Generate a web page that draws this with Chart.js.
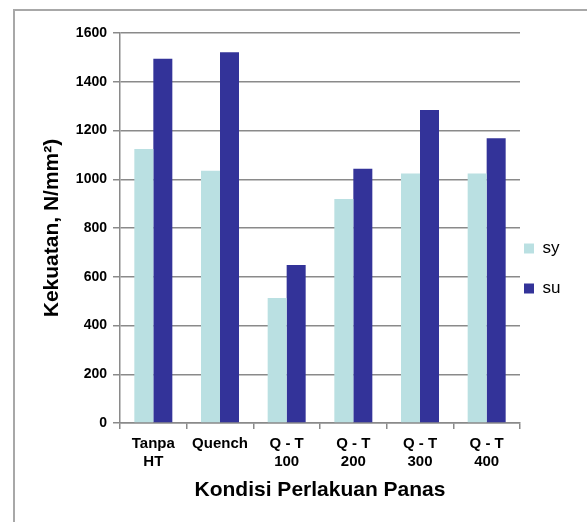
<!DOCTYPE html>
<html>
<head>
<meta charset="utf-8">
<script src="https://cdn.jsdelivr.net/npm/chart.js@4/dist/chart.umd.min.js"></script>
<style>
  html, body { margin: 0; padding: 0; background: #fff; }
  #wrap { position: relative; width: 587px; height: 522px; overflow: hidden; }
  #frame { position: absolute; left: 13px; top: 9px; width: 580px; height: 520px;
           border-left: 2px solid #a8a8a8; border-top: 2px solid #a8a8a8; box-sizing: border-box; }
  canvas { position: absolute; left: 0; top: 0; }
</style>
</head>
<body>
<div id="wrap">
  <canvas id="c" width="587" height="522"></canvas>
  <div id="frame"></div>
</div>
<script>
// Heat-treatment conditions and measured strengths (N/mm²)
const categories = [["Tanpa", "HT"], "Quench", ["Q - T", "100"], ["Q - T", "200"], ["Q - T", "300"], ["Q - T", "400"]];
const seriesNames = ["sy", "su"];
const syValues = [1124, 1035, 513, 919, 1024, 1024];
const suValues = [1494, 1521, 648, 1043, 1284, 1168];
const yTicks = [0, 200, 400, 600, 800, 1000, 1200, 1400, 1600];
const xTitle = "Kondisi Perlakuan Panas";
const yTitle = "Kekuatan, N/mm\u00b2)";

const FONT = "'Liberation Sans', Arial, Helvetica, sans-serif";
const GRID = "#8a8a8a";

// Pull the legend block a little closer to the plot area after layout
const legendNudge = {
  id: "legendNudge",
  afterLayout(chart) {
    const lg = chart.legend;
    if (lg) { lg.left -= 19; lg.right -= 19; }
  }
};

new Chart(document.getElementById("c"), {
  type: "bar",
  data: {
    labels: categories,
    datasets: [
      { label: seriesNames[0], data: syValues, backgroundColor: "#bae0e2", borderWidth: 0 },
      { label: seriesNames[1], data: suValues, backgroundColor: "#333399", borderWidth: 0 }
    ]
  },
  plugins: [legendNudge],
  options: {
    responsive: false,
    animation: false,
    devicePixelRatio: 1,
    layout: { padding: { top: 33, left: 0, right: 3, bottom: 18 } },
    datasets: { bar: { categoryPercentage: 0.57, barPercentage: 1.0 } },
    plugins: {
      tooltip: { enabled: false },
      legend: {
        position: "right",
        maxWidth: 64,
        labels: {
          boxWidth: 10, boxHeight: 10, padding: 23,
          color: "#000",
          font: { family: FONT, size: 17 }
        }
      }
    },
    scales: {
      x: {
        offset: true,
        grid: { display: true, drawOnChartArea: false, drawTicks: true, tickLength: 6, color: GRID, lineWidth: 1.5 },
        border: { display: true, color: GRID, width: 1.5 },
        ticks: { color: "#000", padding: 6, maxRotation: 0, autoSkip: false,
                 font: { family: FONT, size: 15, weight: "bold", lineHeight: 1.2 } },
        title: { display: true, text: xTitle, color: "#000",
                 font: { family: FONT, size: 21, weight: "bold" }, padding: { top: 0, bottom: 1 } },
        afterFit: (s) => { s.height = 81; }
      },
      y: {
        min: 0, max: 1600,
        afterBuildTicks: (s) => { s.ticks = yTicks.map(v => ({ value: v })); },
        grid: { color: GRID, lineWidth: 1.5, tickLength: 7, drawTicks: true },
        border: { display: true, color: GRID, width: 1.5 },
        ticks: { color: "#000", padding: 6, font: { family: FONT, size: 14, weight: "bold" },
                 callback: (v) => String(v) },
        title: { display: true, text: yTitle, color: "#000",
                 font: { family: FONT, size: 21, weight: "bold" }, padding: { top: 40, bottom: 0 } },
        afterFit: (s) => { s.width = 120; }
      }
    }
  }
});
</script>
</body>
</html>
